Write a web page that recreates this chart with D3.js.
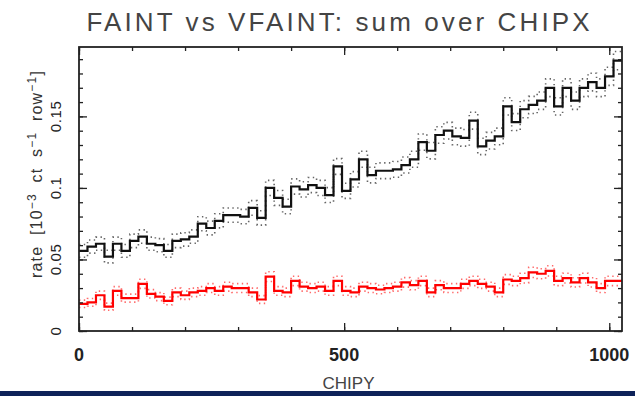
<!DOCTYPE html>
<html>
<head>
<meta charset="utf-8">
<script src="https://cdn.jsdelivr.net/npm/d3@7/dist/d3.min.js"></script>
<style>
  html, body { margin: 0; padding: 0; background: #fff; }
  svg { display: block; }
  text { font-family: "Liberation Sans", Arial, Helvetica, sans-serif; }
</style>
</head>
<body>
<svg id="chart" width="635" height="396"></svg>
<script>
// CHIPY bins (16 rows each), rates summed over CHIPX
const binWidth = 16;
const chipyMax = 1024;

// FAINT mode rate per bin
const faintRate = [
  0.056, 0.059, 0.061, 0.052, 0.061, 0.056, 0.063, 0.066,
  0.061, 0.060, 0.056, 0.063, 0.064, 0.066, 0.075, 0.072,
  0.077, 0.081, 0.081, 0.080, 0.086, 0.079, 0.100, 0.093,
  0.087, 0.101, 0.099, 0.102, 0.100, 0.095, 0.115, 0.098,
  0.106, 0.120, 0.109, 0.112, 0.112, 0.113, 0.116, 0.120,
  0.132, 0.126, 0.137, 0.140, 0.136, 0.135, 0.147, 0.129,
  0.133, 0.136, 0.157, 0.146, 0.155, 0.158, 0.161, 0.170,
  0.157, 0.170, 0.161, 0.170, 0.174, 0.170, 0.178, 0.189
];
const faintErr = [
  0.0045, 0.0046, 0.0046, 0.0044, 0.0046, 0.0045, 0.0047, 0.0047,
  0.0046, 0.0046, 0.0045, 0.0047, 0.0047, 0.0047, 0.0049, 0.0048,
  0.0049, 0.0050, 0.0050, 0.0050, 0.0051, 0.0050, 0.0053, 0.0052,
  0.0051, 0.0053, 0.0053, 0.0053, 0.0053, 0.0052, 0.0055, 0.0053,
  0.0054, 0.0056, 0.0055, 0.0055, 0.0055, 0.0055, 0.0056, 0.0056,
  0.0057, 0.0057, 0.0058, 0.0058, 0.0058, 0.0058, 0.0059, 0.0057,
  0.0058, 0.0058, 0.0060, 0.0059, 0.0060, 0.0060, 0.0061, 0.0062,
  0.0060, 0.0062, 0.0061, 0.0062, 0.0062, 0.0062, 0.0063, 0.0064
];

// VFAINT mode rate per bin
const vfaintRate = [
  0.019, 0.020, 0.025, 0.017, 0.028, 0.023, 0.023, 0.033,
  0.026, 0.024, 0.021, 0.027, 0.025, 0.027, 0.028, 0.030,
  0.028, 0.031, 0.030, 0.030, 0.027, 0.022, 0.038, 0.028,
  0.027, 0.035, 0.031, 0.030, 0.031, 0.028, 0.035, 0.028,
  0.027, 0.031, 0.030, 0.029, 0.030, 0.031, 0.034, 0.032,
  0.035, 0.027, 0.032, 0.030, 0.030, 0.033, 0.035, 0.033,
  0.031, 0.027, 0.036, 0.035, 0.037, 0.041, 0.040, 0.042,
  0.035, 0.037, 0.034, 0.037, 0.034, 0.030, 0.035, 0.035
];
const vfaintErr = [
  0.0026, 0.0027, 0.0029, 0.0025, 0.0030, 0.0028, 0.0028, 0.0032,
  0.0029, 0.0028, 0.0027, 0.0030, 0.0029, 0.0030, 0.0030, 0.0031,
  0.0030, 0.0031, 0.0031, 0.0031, 0.0030, 0.0027, 0.0034, 0.0030,
  0.0030, 0.0033, 0.0031, 0.0031, 0.0031, 0.0030, 0.0033, 0.0030,
  0.0030, 0.0031, 0.0031, 0.0030, 0.0031, 0.0031, 0.0033, 0.0032,
  0.0033, 0.0030, 0.0032, 0.0031, 0.0031, 0.0032, 0.0033, 0.0032,
  0.0031, 0.0030, 0.0034, 0.0033, 0.0034, 0.0036, 0.0035, 0.0036,
  0.0033, 0.0034, 0.0032, 0.0034, 0.0032, 0.0031, 0.0033, 0.0033
];

const xMajorTicks = [0, 500, 1000];
const xMinorTicks = [0, 100, 200, 300, 400, 500, 600, 700, 800, 900, 1000];
const yMajorTicks = [0, 0.05, 0.1, 0.15];
const yMinorTicks = [0, 0.01, 0.02, 0.03, 0.04, 0.05, 0.06, 0.07, 0.08, 0.09,
                     0.10, 0.11, 0.12, 0.13, 0.14, 0.15, 0.16, 0.17, 0.18, 0.19];
const yTickLabels = ["0", "0.05", "0.1", "0.15"];
const xTickLabels = ["0", "500", "1000"];

const plot = { left: 79, right: 622, top: 47, bottom: 331 };

const svg = d3.select("#chart");

const x = d3.scaleLinear().domain([0, chipyMax]).range([plot.left, plot.right]);
const y = d3.scaleLinear().domain([0, 0.1985]).range([plot.bottom, plot.top]);

// Step-shaped histogram: one point per bin edge, last value repeated at the end
function stepPoints(values) {
  const pts = values.map((v, i) => [i * binWidth, v]);
  pts.push([values.length * binWidth, values[values.length - 1]]);
  return pts;
}
const stepLine = d3.line()
  .x(d => x(d[0]))
  .y(d => y(d[1]))
  .curve(d3.curveStepAfter);

function drawSeries(values, errs, color, envColor) {
  const upper = values.map((v, i) => v + errs[i]);
  const lower = values.map((v, i) => v - errs[i]);
  [upper, lower].forEach(env => {
    svg.append("path")
      .attr("d", stepLine(stepPoints(env)))
      .attr("fill", "none")
      .attr("stroke", envColor)
      .attr("stroke-width", 1.6)
      .attr("stroke-dasharray", "1.4,3.4");
  });
  svg.append("path")
    .attr("d", stepLine(stepPoints(values)))
    .attr("fill", "none")
    .attr("stroke", color)
    .attr("stroke-width", 2.2)
    .attr("stroke-linejoin", "miter");
}

drawSeries(faintRate, faintErr, "#111", "#666");
drawSeries(vfaintRate, vfaintErr, "#ff0000", "#ff6a6a");

// Inward ticks on all four sides
function tickAxis(gen, transform, size) {
  const g = svg.append("g").attr("transform", transform).call(gen.tickSize(size).tickFormat(""));
  g.select(".domain").remove();
  g.selectAll(".tick line").attr("stroke", "#222").attr("stroke-width", 1.3);
  return g;
}
tickAxis(d3.axisBottom(x).tickValues(xMinorTicks), `translate(0,${plot.bottom})`, -4);
tickAxis(d3.axisBottom(x).tickValues(xMajorTicks), `translate(0,${plot.bottom})`, -8);
tickAxis(d3.axisTop(x).tickValues(xMinorTicks), `translate(0,${plot.top})`, -4);
tickAxis(d3.axisTop(x).tickValues(xMajorTicks), `translate(0,${plot.top})`, -8);
tickAxis(d3.axisLeft(y).tickValues(yMinorTicks), `translate(${plot.left},0)`, -4);
tickAxis(d3.axisLeft(y).tickValues(yMajorTicks), `translate(${plot.left},0)`, -8);
tickAxis(d3.axisRight(y).tickValues(yMinorTicks), `translate(${plot.right},0)`, -4);
tickAxis(d3.axisRight(y).tickValues(yMajorTicks), `translate(${plot.right},0)`, -8);

// Frame
svg.append("rect")
  .attr("x", plot.left).attr("y", plot.top)
  .attr("width", plot.right - plot.left).attr("height", plot.bottom - plot.top)
  .attr("fill", "none").attr("stroke", "#222").attr("stroke-width", 1.8);

// Tick labels
svg.append("g").selectAll("text")
  .data(xMajorTicks)
  .join("text")
  .attr("x", d => x(d))
  .attr("y", 361)
  .attr("text-anchor", "middle")
  .attr("font-size", 18)
  .attr("font-weight", 600)
  .attr("fill", "#222")
  .text((d, i) => xTickLabels[i]);

svg.append("g").selectAll("text")
  .data(yMajorTicks)
  .join("text")
  .attr("transform", d => `translate(61,${y(d)}) rotate(-90)`)
  .attr("text-anchor", "middle")
  .attr("font-size", 15)
  .attr("letter-spacing", 0.6)
  .attr("fill", "#222")
  .text((d, i) => yTickLabels[i]);

// Axis titles
svg.append("text")
  .attr("x", x(chipyMax / 2) - 2)
  .attr("y", 389)
  .attr("text-anchor", "middle")
  .attr("font-size", 17)
  .attr("fill", "#444")
  .text("CHIPY");

const yLab = svg.append("text")
  .attr("transform", "translate(42,174) rotate(-90)")
  .attr("text-anchor", "middle")
  .attr("font-size", 16)
  .attr("letter-spacing", 1.2)
  .attr("word-spacing", 5)
  .attr("fill", "#333");
yLab.append("tspan").text("rate [10");
yLab.append("tspan").attr("dy", -6).attr("font-size", 12).text("\u22123");
yLab.append("tspan").attr("dy", 6).text(" ct s");
yLab.append("tspan").attr("dy", -6).attr("font-size", 12).text("\u22121");
yLab.append("tspan").attr("dy", 6).text(" row");
yLab.append("tspan").attr("dy", -6).attr("font-size", 12).text("\u22121");
yLab.append("tspan").attr("dy", 6).text("]");

// Title
svg.append("text")
  .attr("x", 338)
  .attr("y", 31)
  .attr("text-anchor", "middle")
  .attr("font-size", 26)
  .attr("fill", "#444")
  .attr("textLength", 503)
  .attr("lengthAdjust", "spacing")
  .text("FAINT vs VFAINT: sum over CHIPX");

// Bottom band
svg.append("rect")
  .attr("x", 0).attr("y", 391)
  .attr("width", 635).attr("height", 5)
  .attr("fill", "#0e2259");
</script>
</body>
</html>
